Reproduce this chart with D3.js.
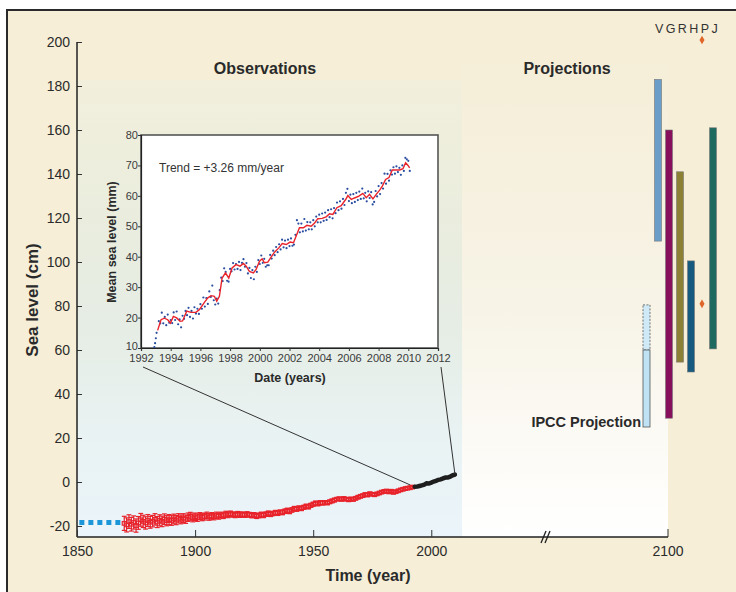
<!DOCTYPE html>
<html><head><meta charset="utf-8">
<script src="https://cdn.jsdelivr.net/npm/d3@7"></script>
<style>
html,body{margin:0;padding:0;background:#fff;}
svg{display:block;font-family:"Liberation Sans",Arial,sans-serif;}
</style></head>
<body>
<svg id="chart" width="736" height="592"></svg>
<script>
// ---------------- DATA ----------------
const yTicksMain = [-20,0,20,40,60,80,100,120,140,160,180,200];
const xTicksMain = [1850,1900,1950,2000];
const projTickYear = 2100;

// historical estimate (blue squares), cm
const histYears = [1851,1870];
const histValues = [-18.4,-18.4];

// tide-gauge reconstruction, cm, yearly from 1870
const tgStart = 1870;
const tgValues = [
-18.8,-19.5,-18.0,-19.2,-18.4,-19.8,-18.6,-17.2,-17.9,-18.6,
-17.5,-18.3,-17.8,-17.0,-18.2,-17.4,-17.9,-16.9,-17.6,-17.1,
-17.5,-16.8,-17.3,-16.5,-17.0,-16.4,-16.9,-16.0,-15.6,-16.3,
-15.8,-16.2,-15.5,-16.0,-15.7,-15.2,-15.9,-15.4,-15.8,-15.1,
-15.5,-15.0,-15.3,-14.6,-14.9,-14.4,-14.8,-15.0,-14.6,-14.9,
-14.7,-15.0,-14.6,-14.9,-15.2,-15.0,-15.5,-15.2,-14.8,-15.1,
-14.6,-14.2,-14.7,-14.3,-13.9,-14.2,-13.7,-13.9,-13.3,-12.9,
-13.4,-12.7,-12.0,-12.4,-11.8,-12.1,-11.5,-11.0,-11.3,-10.6,
-10.1,-9.6,-9.9,-9.4,-9.6,-9.3,-9.5,-9.0,-8.6,-8.2,
-7.8,-7.6,-7.9,-7.5,-7.8,-8.1,-7.7,-7.9,-7.4,-6.9,
-6.5,-6.2,-5.7,-5.9,-5.3,-5.6,-5.8,-5.4,-5.0,-4.6,
-4.3,-4.1,-4.5,-4.2,-4.7,-4.4,-4.0,-3.6,-3.3,-3.0,
-2.8,-2.6,-2.3];
const tgErrors = [
3.2,3.2,3.1,3.1,3.0,3.0,2.9,2.9,2.8,2.8,
2.7,2.7,2.6,2.6,2.5,2.5,2.4,2.4,2.3,2.3,
2.2,2.2,2.1,2.1,2.0,2.0,1.9,1.9,1.8,1.8,
1.7,1.7,1.6,1.6,1.6,1.5,1.5,1.5,1.4,1.4,
1.4,1.3,1.3,1.3,1.3,1.2,1.2,1.2,1.2,1.2,
1.1,1.1,1.1,1.1,1.1,1.1,1.1,1.1,1.1,1.1,
1.0,1.0,1.0,1.0,1.0,1.0,1.0,1.0,1.0,1.0,
1.0,1.0,0.9,0.9,0.9,0.9,0.9,0.9,0.9,0.9,
0.9,0.9,0.9,0.9,0.8,0.8,0.8,0.8,0.8,0.8,
0.7,0.7,0.7,0.7,0.7,0.7,0.7,0.7,0.7,0.7,
0.7,0.7,0.7,0.7,0.6,0.6,0.6,0.6,0.6,0.6,
0.6,0.6,0.6,0.6,0.6,0.6,0.6,0.6,0.6,0.6,
0.6,0.6,0.6];

// satellite altimetry in main chart, cm
const satYears  = [1993,1994,1995,1996,1997,1998,1999,2000,2001,2002,2003,2004,2005,2006,2007,2008,2009,2010];
const satValues = [-2.2,-2.1,-1.8,-1.5,-1.2,-0.6,-0.7,-0.3,0.2,0.5,1.0,1.2,1.6,2.0,2.0,2.4,3.0,3.4];

// projections for 2100 (cm)
const projNames = ["V","G","R","H","P","J"];
const projLow   = [109.5, 29, 54.5, 50, null, 60.5];
const projHigh  = [183, 160, 141, 100.5, null, 161];
const projPoint = [null, null, null, null, 81, null];
const projColors = ["#6b9dc9","#870f5b","#8c8035","#165a7f","#e0662a","#1e6a60"];
const ipccSolid = [25, 60];
const ipccDashed = [60, 80.5];

// inset: satellite altimetry (mm)
const insetXTicks = [1992,1994,1996,1998,2000,2002,2004,2006,2008,2010,2012];
const insetYTicks = [10,20,30,40,50,60,70,80];
const smoothYears = [1993.12,1993.35,1993.57,1993.8,1993.98,1994.18,1994.4,1994.63,1994.8,1995.08,1995.37,1995.7,1995.93,1996.27,1996.5,1996.72,1996.94,1997.1,1997.28,1997.46,1997.69,1997.91,1998.13,1998.4,1998.67,1998.9,1999.08,1999.3,1999.57,1999.75,1999.98,2000.16,2000.31,2000.54,2000.76,2000.99,2001.28,2001.51,2001.78,2002.04,2002.27,2002.49,2002.67,2002.94,2003.17,2003.46,2003.69,2003.91,2004.2,2004.47,2004.7,2004.92,2005.19,2005.48,2005.78,2005.93,2006.16,2006.38,2006.67,2006.94,2007.17,2007.39,2007.62,2007.84,2008.07,2008.25,2008.47,2008.7,2008.92,2009.19,2009.42,2009.64,2009.82,2009.98,2010.09];
const smoothValues = [15.8,19.3,19.8,19.3,18.2,20.4,19.9,18.8,18.9,22.1,21.7,21.7,22.6,25.0,26.5,27.2,27.0,25.4,27.0,33.0,34.7,33.0,36.3,37.4,36.9,37.8,36.9,35.2,34.7,35.8,38.5,39.3,38.0,38.2,39.9,41.5,42.9,44.3,44.0,44.8,44.6,47.3,49.5,49.5,50.3,50.0,51.1,52.5,52.6,53.1,54.1,53.9,56.1,56.8,58.8,60.1,58.8,59.3,59.9,60.8,59.4,60.5,59.0,60.5,61.9,63.2,65.4,66.0,68.5,68.5,68.5,68.9,70.9,70.0,69.2];

const dotStart = 1992.9;
const dotValues = [10.3,11.6,13.2,15.0,
18.8,18.1,21.6,18.1,20.2,17.5,21.0,18.3,19.2,18.2,
21.7,19.2,22.0,17.8,19.4,16.8,20.6,19.6,22.2,20.8,
23.2,20.2,22.2,19.7,23.4,21.3,22.9,21.2,24.4,22.9,
26.6,23.6,26.4,24.5,28.6,26.8,30.5,25.7,24.3,26.2,
24.6,29.0,33.1,32.0,36.2,35.0,32.1,31.8,36.0,35.2,
37.9,35.8,37.6,36.0,38.3,35.6,38.0,39.2,36.7,37.9,
34.5,36.3,33.0,35.6,32.6,36.7,35.0,38.9,37.6,40.4,
38.0,39.3,36.7,37.2,37.2,40.6,39.4,42.0,40.5,43.2,
41.5,44.1,42.4,45.6,43.1,45.3,42.8,45.6,43.5,46.0,
43.6,44.0,47.2,52.0,50.9,48.0,50.9,48.3,52.4,48.6,
51.4,49.0,51.3,49.0,52.0,50.0,53.2,51.3,53.8,51.3,
54.2,51.8,54.5,52.1,55.3,53.0,55.6,52.6,56.0,54.3,
57.8,55.3,58.2,55.8,59.0,57.0,61.0,62.3,58.3,60.4,
57.6,60.6,58.0,61.0,58.6,61.4,59.0,62.4,59.2,61.0,
58.2,61.5,59.3,61.2,57.2,58.0,61.6,59.8,63.2,60.6,
64.2,62.4,67.3,64.0,67.2,65.0,68.4,67.0,69.4,67.3,
69.7,67.8,69.2,66.9,70.0,68.2,72.5,72.0,71.5,68.2];

// ---------------- DRAW ----------------
const svg = d3.select("#chart");
const defs = svg.append("defs");

// frame background
svg.append("rect").attr("x",7).attr("y",10).attr("width",740).attr("height",600)
  .attr("fill","#f6eed6").attr("stroke","#2a2a2a").attr("stroke-width",2);

const x = d3.scaleLinear().domain([1850,2013]).range([77,462]);
const y = d3.scaleLinear().domain([-20,200]).range([526,42]);
const axisY = 537;
const xProj = d3.scaleLinear().domain([2013,2100]).range([462,668]);

// gradients
const g1 = defs.append("linearGradient").attr("id","obsGrad").attr("x1",0).attr("y1",0).attr("x2",0).attr("y2",1);
[[0,"#f2efdc"],[0.3,"#eaedde"],[0.55,"#e6ede5"],[0.8,"#e9f3f4"],[1,"#eaf4fa"]].forEach(s=>g1.append("stop").attr("offset",s[0]).attr("stop-color",s[1]));
const g2 = defs.append("linearGradient").attr("id","projGrad").attr("x1",0).attr("y1",0).attr("x2",0).attr("y2",1);
[[0,"#f5eed8"],[0.5,"#f7f3e6"],[1,"#ffffff"]].forEach(s=>g2.append("stop").attr("offset",s[0]).attr("stop-color",s[1]));

svg.append("rect").attr("x",x(1850)).attr("y",80).attr("width",x(2013)-x(1850)).attr("height",axisY-80).attr("fill","url(#obsGrad)");
svg.append("rect").attr("x",xProj(2013)).attr("y",64).attr("width",xProj(2100)-xProj(2013)).attr("height",axisY-64).attr("fill","url(#projGrad)");

// y axis
const yAxisG = svg.append("g").attr("transform",`translate(${x(1850)},0)`)
  .call(d3.axisRight(y).tickValues(yTicksMain).tickSize(5).tickFormat(d=>d));
yAxisG.select(".domain").remove();
yAxisG.selectAll("line").attr("stroke","#333");
yAxisG.selectAll("text").attr("x",-7).attr("text-anchor","end").attr("font-size",14).attr("fill","#2b2b2b");
svg.append("line").attr("x1",x(1850)).attr("x2",x(1850)).attr("y1",y(200)).attr("y2",axisY).attr("stroke","#222").attr("stroke-width",1.5);

// x axis
svg.append("line").attr("x1",x(1850)).attr("x2",xProj(2100)).attr("y1",axisY).attr("y2",axisY).attr("stroke","#222").attr("stroke-width",1.5);
const xAxisG = svg.append("g").attr("transform",`translate(0,${axisY})`)
  .call(d3.axisTop(x).tickValues(xTicksMain).tickSize(7).tickFormat(d=>d));
xAxisG.select(".domain").remove();
xAxisG.selectAll("line").attr("stroke","#333");
xAxisG.selectAll("text").attr("y",14).attr("dy","0.35em").attr("font-size",14).attr("fill","#2b2b2b");
svg.append("line").attr("x1",xProj(2100)).attr("x2",xProj(2100)).attr("y1",axisY).attr("y2",axisY-8).attr("stroke","#333");
svg.append("text").attr("x",xProj(2100)).attr("y",axisY+14).attr("dy","0.35em").attr("text-anchor","middle").attr("font-size",14).attr("fill","#2b2b2b").text(projTickYear);
// axis break
[0,4].forEach(o=>svg.append("line").attr("x1",541+o).attr("y1",543).attr("x2",546+o).attr("y2",531).attr("stroke","#222").attr("stroke-width",1.3));

// titles
svg.append("text").attr("transform","translate(38,300) rotate(-90)").attr("text-anchor","middle")
  .attr("font-size",17).attr("font-weight","bold").attr("fill","#2a2a2a").text("Sea level (cm)");
svg.append("text").attr("x",368).attr("y",581).attr("text-anchor","middle")
  .attr("font-size",16).attr("font-weight","bold").attr("fill","#2a2a2a").text("Time (year)");
svg.append("text").attr("x",265).attr("y",74).attr("text-anchor","middle")
  .attr("font-size",16).attr("font-weight","bold").attr("fill","#2a2a2a").text("Observations");
svg.append("text").attr("x",567).attr("y",74).attr("text-anchor","middle")
  .attr("font-size",16).attr("font-weight","bold").attr("fill","#2a2a2a").text("Projections");

// historical blue squares
svg.append("line").attr("x1",x(histYears[0])).attr("x2",x(histYears[1])).attr("y1",y(histValues[0])).attr("y2",y(histValues[1]))
  .attr("stroke","#1b96d8").attr("stroke-width",5).attr("stroke-dasharray","5,4");

// tide gauge with error bars
const tg = tgValues.map((v,i)=>({yr:tgStart+i,v:v,e:tgErrors[i]}));
const tgG = svg.append("g").attr("stroke","#e8232b").attr("fill","none").attr("stroke-width",1.2);
tg.forEach(d=>{
  const cx = x(d.yr), y0=y(d.v-d.e), y1=y(d.v+d.e);
  tgG.append("line").attr("x1",cx).attr("x2",cx).attr("y1",y0).attr("y2",y1);
  tgG.append("line").attr("x1",cx-2.4).attr("x2",cx+2.4).attr("y1",y0).attr("y2",y0);
  tgG.append("line").attr("x1",cx-2.4).attr("x2",cx+2.4).attr("y1",y1).attr("y2",y1);
  tgG.append("rect").attr("x",cx-2).attr("y",y(d.v)-1.8).attr("width",4).attr("height",3.6);
});

// satellite black line
const satData = satYears.map((yr,i)=>({yr, v:satValues[i]}));
svg.append("path").datum(satData).attr("fill","none").attr("stroke","#1e1e1e").attr("stroke-width",4.5).attr("stroke-linecap","round")
  .attr("d",d3.line().x(d=>x(d.yr)).y(d=>y(d.v)));

// projection bars
const px = d3.scalePoint().domain(projNames).range([658,713]);
const barW = 7;
svg.append("text").attr("x",655).attr("y",33).attr("font-size",12.5).attr("letter-spacing",2.4)
  .attr("fill","#333").text(projNames.join(""));
projNames.forEach((n,i)=>{
  if(projLow[i]!=null){
    svg.append("rect").attr("x",px(n)-barW/2).attr("y",y(projHigh[i])).attr("width",barW)
      .attr("height",y(projLow[i])-y(projHigh[i])).attr("fill",projColors[i]).attr("stroke","#777").attr("stroke-width",0.6);
  }
  if(projPoint[i]!=null){
    const sym = d3.symbol().type(d3.symbolDiamond).size(22);
    svg.append("path").attr("d",sym()).attr("transform",`translate(${px(n)},${y(projPoint[i])})`).attr("fill",projColors[i]);
    svg.append("path").attr("d",sym()).attr("transform",`translate(${px(n)},40)`).attr("fill",projColors[i]);
  }
});
// IPCC bar
const ipx = 646.5;
svg.append("rect").attr("x",ipx-3.5).attr("y",y(ipccDashed[1])).attr("width",7).attr("height",y(ipccDashed[0])-y(ipccDashed[1]))
  .attr("fill","#cfeaf6").attr("stroke","#555").attr("stroke-width",0.8).attr("stroke-dasharray","2,1.5");
svg.append("rect").attr("x",ipx-3.5).attr("y",y(ipccSolid[1])).attr("width",7).attr("height",y(ipccSolid[0])-y(ipccSolid[1]))
  .attr("fill","#bfe3f4").attr("stroke","#555").attr("stroke-width",0.8);
svg.append("text").attr("x",641).attr("y",427).attr("text-anchor","end").attr("font-size",14.5).attr("font-weight","bold")
  .attr("fill","#2a2a2a").text("IPCC Projection");

// ---------------- INSET ----------------
const ix = d3.scaleLinear().domain([1992,2012]).range([141,438]);
const iy = d3.scaleLinear().domain([10,80]).range([348,135]);

// connector lines
svg.append("line").attr("x1",ix(1992)+2).attr("y1",367).attr("x2",x(1991)).attr("y2",y(-1.3)).attr("stroke","#333").attr("stroke-width",1);
svg.append("line").attr("x1",ix(2012)+3).attr("y1",367).attr("x2",x(2010)).attr("y2",y(3.6)).attr("stroke","#333").attr("stroke-width",1);

svg.append("rect").attr("x",ix(1992)).attr("y",iy(80)).attr("width",ix(2012)-ix(1992)).attr("height",iy(10)-iy(80))
  .attr("fill","#fff").attr("stroke","#555").attr("stroke-width",1.6);

const iyAxis = svg.append("g").attr("transform",`translate(${ix(1992)},0)`)
  .call(d3.axisLeft(iy).tickValues(insetYTicks).tickSize(3));
const ixAxis = svg.append("g").attr("transform",`translate(0,${iy(10)})`)
  .call(d3.axisBottom(ix).tickValues(insetXTicks).tickSize(3).tickFormat(d=>d));
[iyAxis,ixAxis].forEach(g=>{
  g.select(".domain").attr("stroke","#222").attr("stroke-width",1.2);
  g.selectAll("line").attr("stroke","#333");
  g.selectAll("text").attr("font-size",11).attr("fill","#3a3a3a").attr("font-family","Liberation Sans, Arial, sans-serif");
});
ixAxis.selectAll("text").attr("y",6);
iyAxis.selectAll("text").attr("x",-3);
iyAxis.selectAll("text").filter(d=>d===10).attr("dy","0.1em");

svg.append("text").attr("transform",`translate(116,242) rotate(-90)`).attr("text-anchor","middle")
  .attr("font-size",12.5).attr("font-weight","bold").attr("fill","#2a2a2a").text("Mean sea level (mm)");
svg.append("text").attr("x",290).attr("y",382).attr("text-anchor","middle")
  .attr("font-size",12.5).attr("font-weight","bold").attr("fill","#2a2a2a").text("Date (years)");
svg.append("text").attr("x",159).attr("y",172).attr("font-size",12).attr("fill","#333").text("Trend = +3.26 mm/year");

// blue dots
const dots = dotValues.map((v,i)=>({t: i<4 ? dotStart+i*0.05 : 1993.2+(i-4)*0.1, v}));
svg.append("g").selectAll("circle").data(dots).join("circle")
  .attr("cx",d=>ix(d.t)).attr("cy",d=>iy(d.v)).attr("r",1.1).attr("fill","#2a4da0");

// red smooth
const smooth = smoothYears.map((t,i)=>({t, v:smoothValues[i]}));
svg.append("path").datum(smooth).attr("fill","none").attr("stroke","#e8232b").attr("stroke-width",1.4)
  .attr("d",d3.line().x(d=>ix(d.t)).y(d=>iy(d.v)));
</script>
</body></html>
